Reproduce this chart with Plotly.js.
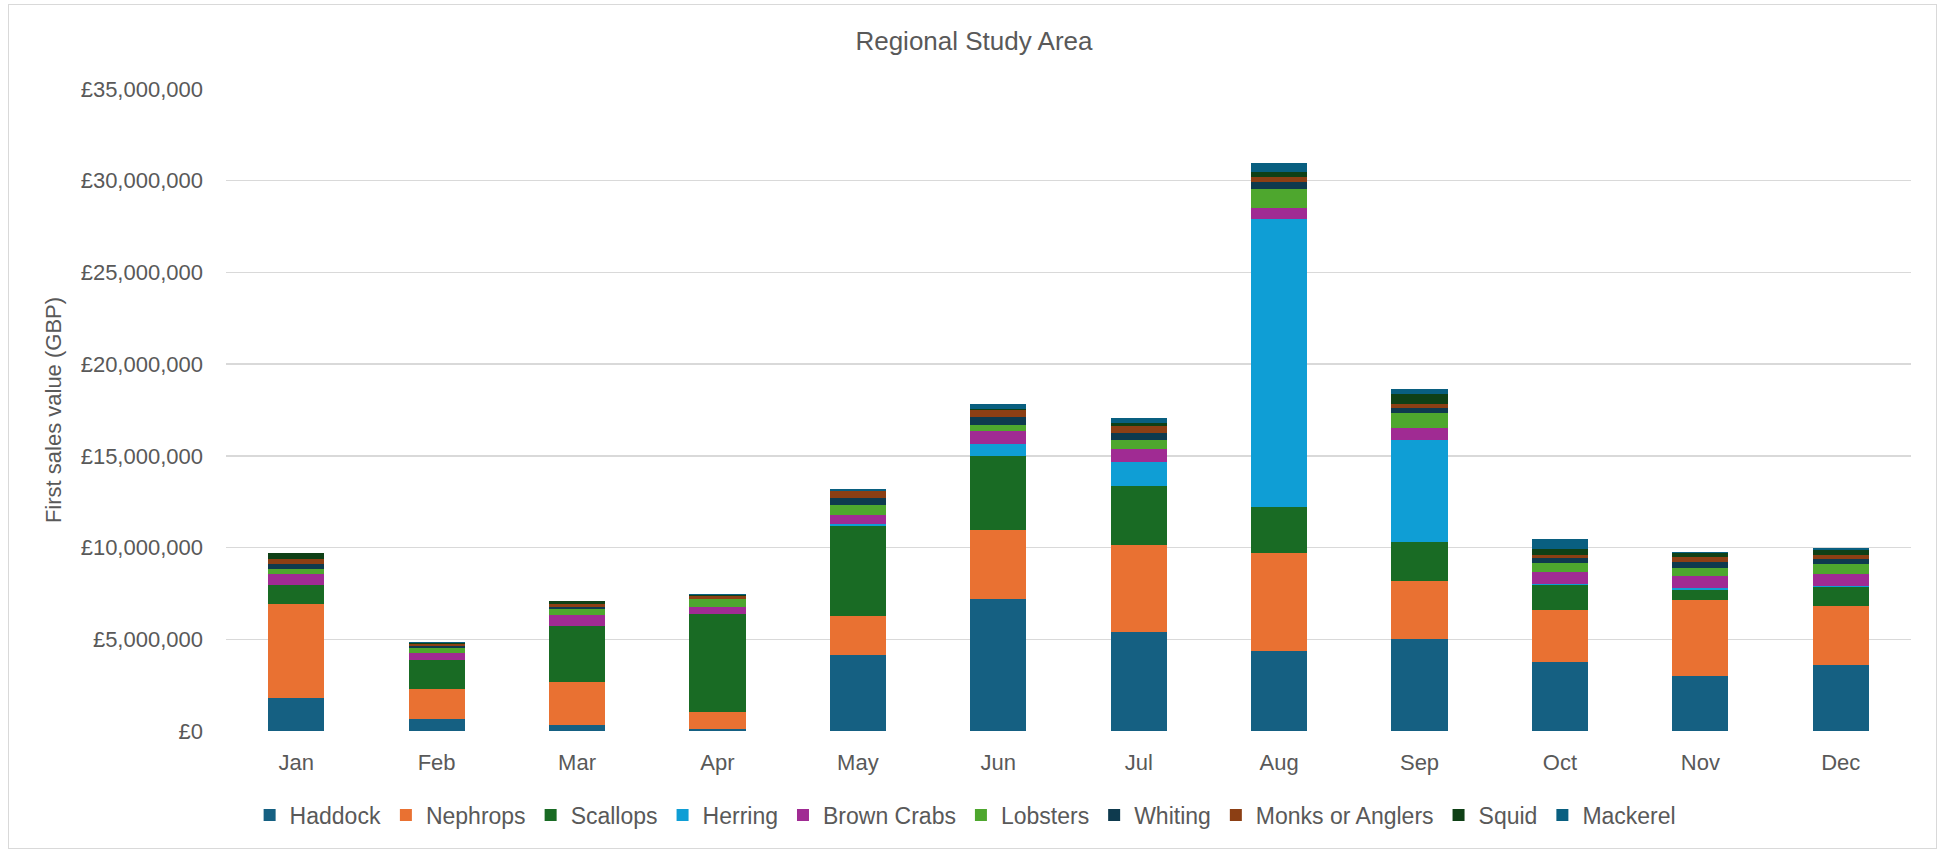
<!DOCTYPE html>
<html>
<head>
<meta charset="utf-8">
<script src="https://cdn.plot.ly/plotly-3.0.1.min.js"></script>
<style>
  html, body { margin: 0; padding: 0; background: #ffffff; }
  #chart { position: absolute; left: 0; top: 0; width: 1939px; height: 849px; }
  #frame { position: absolute; left: 8px; top: 4px; width: 1929px; height: 845px; box-sizing: border-box; border: 1px solid #d9d9d9; pointer-events: none; }
</style>
</head>
<body>
<div id="chart"></div>
<div id="frame"></div>
<script>
const months = ["Jan","Feb","Mar","Apr","May","Jun","Jul","Aug","Sep","Oct","Nov","Dec"];

const haddock    = [1790000, 680000, 310000, 130000, 4130000, 7170000, 5390000, 4370000, 5020000, 3770000, 3020000, 3580000];
const nephrops   = [5160000, 1590000, 2340000, 910000, 2130000, 3810000, 4770000, 5310000, 3180000, 2800000, 4110000, 3250000];
const scallops   = [1020000, 1590000, 3070000, 5320000, 4930000, 4030000, 3180000, 2550000, 2130000, 1410000, 550000, 1040000];
const herring    = [10000, 10000, 10000, 10000, 90000, 650000, 1300000, 15660000, 5520000, 20000, 110000, 20000];
const brownCrabs = [590000, 380000, 570000, 370000, 490000, 670000, 730000, 630000, 670000, 680000, 660000, 660000];
const lobsters   = [260000, 260000, 360000, 450000, 550000, 350000, 480000, 1040000, 810000, 460000, 450000, 550000];
const whiting    = [290000, 110000, 110000, 30000, 380000, 460000, 370000, 380000, 300000, 290000, 300000, 290000];
const monks      = [270000, 110000, 170000, 150000, 360000, 360000, 400000, 270000, 180000, 180000, 290000, 180000];
const squid      = [310000, 90000, 130000, 20000, 20000, 50000, 170000, 290000, 570000, 290000, 200000, 310000];
const mackerel   = [20000, 20000, 20000, 80000, 110000, 290000, 250000, 460000, 270000, 550000, 70000, 70000];

const seriesNames = ["Haddock","Nephrops","Scallops","Herring","Brown Crabs","Lobsters","Whiting","Monks or Anglers","Squid","Mackerel"];
const seriesValues = [haddock, nephrops, scallops, herring, brownCrabs, lobsters, whiting, monks, squid, mackerel];
const seriesColors = ["#156082","#E97132","#196B24","#0F9ED5","#A02B93","#4EA72E","#0E3A4E","#8C3F14","#0F4016","#095F80"];

const yTickVals  = [0, 5000000, 10000000, 15000000, 20000000, 25000000, 30000000, 35000000];
const yTickText  = ["£0","£5,000,000","£10,000,000","£15,000,000","£20,000,000","£25,000,000","£30,000,000","£35,000,000"];

const FONT = "'Liberation Sans', Arial, sans-serif";
const GREY = "#595959";

const traces = seriesNames.map((name, i) => ({
  type: "bar",
  name: name,
  x: months,
  y: seriesValues[i],
  marker: { color: seriesColors[i], line: { width: 0 } }
}));

const layout = {
  width: 1939,
  height: 849,
  barmode: "stack",
  bargap: 0.6,
  paper_bgcolor: "#ffffff",
  plot_bgcolor: "#ffffff",
  margin: { l: 226, r: 28, t: 89, b: 118, pad: 0 },
  font: { family: FONT, color: GREY, size: 22 },
  title: {
    text: "Regional Study Area",
    font: { family: FONT, size: 26, color: GREY },
    x: 0.5023, xref: "container", xanchor: "center",
    y: 0.9517, yref: "container", yanchor: "middle"
  },
  xaxis: {
    type: "category",
    showgrid: false,
    showline: false,
    zeroline: false,
    ticks: "",
    ticklabelstandoff: 16,
    tickfont: { family: FONT, size: 22, color: GREY }
  },
  yaxis: {
    range: [0, 35000000],
    tickmode: "array",
    tickvals: yTickVals,
    ticktext: yTickText,
    showgrid: true,
    gridcolor: "#d9d9d9",
    gridwidth: 1.3,
    zeroline: false,
    showline: false,
    ticks: "",
    ticklabelstandoff: 22,
    tickfont: { family: FONT, size: 22, color: GREY },
    title: {
      text: "First sales value (GBP)",
      font: { family: FONT, size: 22, color: GREY },
      standoff: 12
    }
  },
  legend: {
    orientation: "h",
    xref: "container", x: 0.498, xanchor: "center",
    yref: "container", y: 0.04, yanchor: "middle",
    traceorder: "normal",
    font: { family: FONT, size: 23, color: GREY },
    itemwidth: 30,
    bgcolor: "rgba(0,0,0,0)"
  },
  showlegend: true
};

Plotly.newPlot("chart", traces, layout, { displayModeBar: false, staticPlot: true });
</script>
</body>
</html>
